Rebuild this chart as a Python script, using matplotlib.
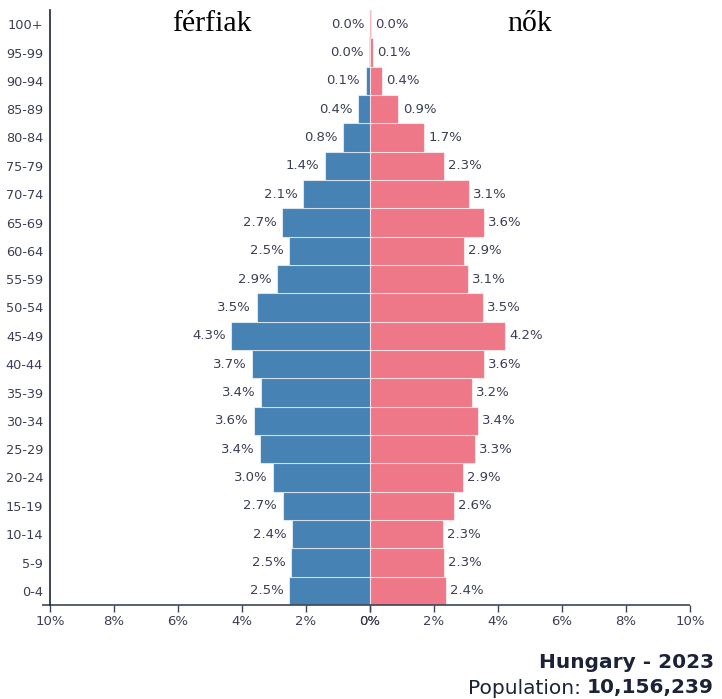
import matplotlib.pyplot as plt
from matplotlib.ticker import FixedLocator

age_groups = ['0-4', '5-9', '10-14', '15-19', '20-24', '25-29', '30-34', '35-39',
              '40-44', '45-49', '50-54', '55-59', '60-64', '65-69', '70-74', '75-79',
              '80-84', '85-89', '90-94', '95-99', '100+']
males = [2.53, 2.47, 2.44, 2.73, 3.02, 3.43, 3.62, 3.40, 3.69, 4.33, 3.54,
         2.90, 2.53, 2.74, 2.09, 1.40, 0.83, 0.37, 0.14, 0.03, 0.00]
females = [2.38, 2.31, 2.28, 2.63, 2.90, 3.27, 3.38, 3.19, 3.56, 4.22, 3.52,
           3.06, 2.94, 3.56, 3.09, 2.31, 1.69, 0.89, 0.37, 0.09, 0.02]
x_ticks = [-10, -8, -6, -4, -2, 0, 0, 2, 4, 6, 8, 10]

blue = '#4682b4'
pink = '#ee7888'
txt = '#3b3f55'
dark = '#1c2338'
axis_col = '#3e4459'

fig = plt.figure(figsize=(7.22, 6.99), dpi=100)
ax = fig.add_axes([50 / 722, 94 / 699, 640 / 722, 595 / 699])

y = list(range(len(age_groups)))
ax.barh(y, [-m for m in males], height=1, color=blue, edgecolor=(1, 1, 1, 0.6), linewidth=0.8)
ax.barh(y, females, height=1, color=pink, edgecolor=(1, 1, 1, 0.6), linewidth=0.8)
ax.plot([0, 0], [19.5, 20.5], color=pink, alpha=0.35, linewidth=1)

for i in y:
    ax.annotate(f'{males[i]:.1f}%', (-males[i], i), xytext=(-4, 0), textcoords='offset points',
                ha='right', va='center', fontsize=9.5, color=txt)
    ax.annotate(f'{females[i]:.1f}%', (females[i], i), xytext=(3, 0), textcoords='offset points',
                ha='left', va='center', fontsize=9.5, color=txt)

ax.set_xlim(-10, 10)
ax.set_ylim(-0.5, len(age_groups) - 0.5)
ax.set_yticks(y)
ax.set_yticklabels(age_groups, fontsize=9.3, color=txt)
ax.tick_params(axis='y', length=0, pad=5)
ax.xaxis.set_major_locator(FixedLocator(x_ticks))
ax.set_xticklabels([f'{abs(v)}%' for v in x_ticks], fontsize=9.5, color=txt)
ax.tick_params(axis='x', length=5, width=1, color=axis_col, pad=2)

for s in ['top', 'right', 'bottom']:
    ax.spines[s].set_visible(False)
ax.spines['left'].set_color(dark)
ax.spines['left'].set_linewidth(1.2)
# x axis line runs a bit past the y axis, like the original
ax.plot([-10.25, 10], [-0.5, -0.5], color=axis_col, linewidth=1.2, clip_on=False,
        solid_capstyle='butt')

ax.text(-4.95, 20, 'férfiak', ha='center', va='center', fontsize=21.5,
        family='Liberation Serif', color='black')
ax.text(5.0, 20, 'nők', ha='center', va='center', fontsize=21.5,
        family='Liberation Serif', color='black')

fig.text(714 / 722, 1 - 663 / 699, 'Hungary - 2023', ha='right', va='center',
         fontsize=14.5, fontweight='bold', color=dark)
renderer = fig.canvas.get_renderer()
num = fig.text(714 / 722, 1 - 688 / 699, '10,156,239', ha='right', va='center',
               fontsize=14.5, fontweight='bold', color=dark)
w = num.get_window_extent(renderer).width / fig.bbox.width
fig.text(714 / 722 - w, 1 - 688 / 699, 'Population: ', ha='right', va='center',
         fontsize=14.5, color=dark)

fig.savefig('out.png', dpi=100)
